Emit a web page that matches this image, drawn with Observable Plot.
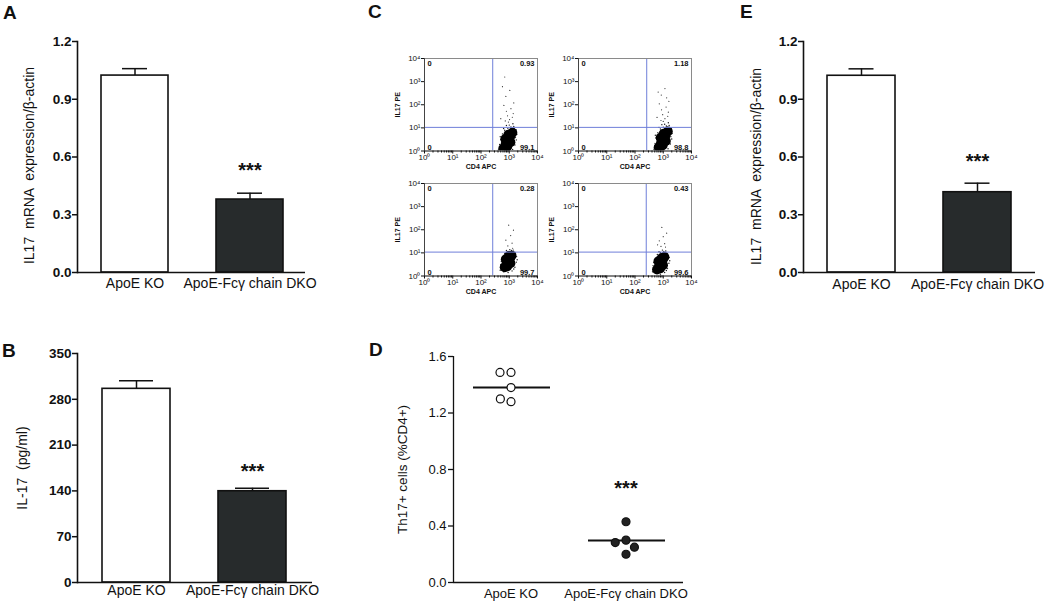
<!DOCTYPE html>
<html><head><meta charset="utf-8">
<script src="https://cdn.jsdelivr.net/npm/d3@7"></script>
<script src="https://cdn.jsdelivr.net/npm/@observablehq/plot@0.6"></script>
<style>
html,body{margin:0;padding:0;background:#fff;}
#root{position:relative;width:1050px;height:602px;overflow:hidden;font-family:"Liberation Sans",Arial,Helvetica,sans-serif;color:#111;}
.panel{position:absolute;}
.letter{position:absolute;font-weight:bold;font-size:19px;line-height:19px;}
</style></head><body><div id="root"></div>
<script>
// ---------- data ----------
const groups = ["ApoE KO", "ApoE-Fcγ chain DKO"];
const barColors = ["#ffffff", "#272b2c"];

// Panel A: IL17 mRNA expression / β-actin
const aMean = [1.023, 0.379];
const aSem = [0.036, 0.033];
// Panel E: IL17 mRNA expression / β-actin
const eMean = [1.022, 0.417];
const eSem = [0.036, 0.047];
// Panel B: IL-17 (pg/ml)
const bMean = [296, 139.5];
const bSem = [12.5, 4.5];

const ticksA = [0, 0.3, 0.6, 0.9, 1.2];
const ticksB = [0, 70, 140, 210, 280, 350];
const ticksD = [0, 0.4, 0.8, 1.2, 1.6];

// Panel D: Th17+ cells (%CD4+)
const dApoE = [1.487, 1.487, 1.38, 1.28, 1.30];
const dDKO = [0.43, 0.30, 0.20, 0.283, 0.25];
const dMedian = [1.38, 0.297];

// Panel C: flow cytometry (log10 decades of CD4 APC, IL17 PE)
const flowTicks = [1, 10, 100, 1000, 10000];
const flowTickLabels = ["10\u2070", "10\u00B9", "10\u00B2", "10\u00B3", "10\u2074"];
const quadTL = ["0", "0", "0", "0"];
const quadTR = ["0.93", "1.18", "0.28", "0.43"];
const quadBL = ["0", "0", "0", "0"];
const quadBR = ["99.1", "98.8", "99.7", "99.6"];
const gateX = [260, 260, 260, 250];
const gateY = [10.5, 10.5, 10.8, 10.8];

const flowCore1 = [[2.79,0.11],[2.87,0.28],[2.95,0.45],[3.03,0.62],[3.11,0.79],[3.04,0.38],[2.86,0.52],[2.93,0.20],[2.97,0.70]];
const flowHalo1 = [[2.62,0.05],[2.66,0.28],[2.70,0.50],[2.76,0.74],[2.84,0.90],[2.95,0.98],[3.06,1.04],[3.16,1.06],[3.24,0.92],[3.27,0.72],[3.25,0.48],[3.20,0.26],[3.12,0.07],[2.99,0.02],[2.71,0.12],[2.80,0.97],[3.00,1.12],[3.13,1.18],[2.90,1.10],[3.22,0.58],[2.68,0.62],[3.18,0.95],[2.74,0.40],[3.09,0.98]];
const flowTail1 = [[2.86,1.30],[3.01,1.36],[2.94,1.52],[3.11,1.46],[2.90,1.72],[3.06,1.83],[2.81,1.97],[3.16,2.08],[2.88,2.36],[3.02,2.62],[2.76,2.78],[2.84,3.20],[2.97,1.25],[3.14,1.62],[2.70,1.40]];

const flowCore2 = [[2.84,0.16],[2.92,0.33],[3.00,0.50],[3.08,0.67],[3.16,0.84],[3.09,0.43],[2.91,0.57],[2.98,0.25],[3.02,0.75]];
const flowHalo2 = [[2.67,0.08],[2.71,0.33],[2.74,0.56],[2.81,0.79],[2.90,0.95],[3.00,1.03],[3.11,1.08],[3.21,1.10],[3.29,0.97],[3.31,0.76],[3.30,0.52],[3.25,0.30],[3.17,0.10],[3.04,0.04],[2.76,0.18],[2.85,1.02],[3.05,1.16],[3.18,1.22],[2.95,1.14],[3.27,0.62],[2.72,0.68],[3.23,1.00],[2.79,0.45],[3.14,1.03]];
const flowTail2 = [[2.92,1.32],[3.06,1.40],[2.98,1.57],[3.16,1.50],[2.94,1.78],[3.10,1.90],[2.86,2.04],[3.20,2.15],[2.93,2.42],[3.06,2.70],[2.82,2.55],[3.00,1.28],[3.18,1.68],[2.78,1.45],[3.12,2.30]];

const flowCore3 = [[2.84,0.38],[2.90,0.52],[2.96,0.64],[3.03,0.78],[3.08,0.88],[3.04,0.55],[2.88,0.72],[2.93,0.42],[2.99,0.86]];
const flowHalo3 = [[2.68,0.25],[2.70,0.50],[2.76,0.78],[2.84,0.98],[2.96,1.06],[3.08,1.10],[3.20,1.02],[3.26,0.84],[3.25,0.60],[3.20,0.38],[3.10,0.22],[2.96,0.15],[2.80,0.18],[3.14,1.12],[2.90,1.10],[3.28,0.70],[2.72,0.64],[3.02,1.14],[2.78,0.35],[3.16,0.30]];
const flowTail3 = [[2.95,1.30],[3.10,1.42],[2.88,1.55],[3.05,1.75],[3.15,1.98],[2.98,2.20],[3.12,1.20]];

const flowCore4 = [[2.78,0.28],[2.85,0.42],[2.91,0.56],[2.98,0.70],[3.04,0.82],[2.99,0.47],[2.83,0.64],[2.89,0.33],[2.95,0.78]];
const flowHalo4 = [[2.62,0.18],[2.64,0.45],[2.70,0.72],[2.79,0.93],[2.90,1.02],[3.02,1.06],[3.14,0.98],[3.21,0.80],[3.20,0.55],[3.15,0.32],[3.05,0.15],[2.90,0.08],[2.74,0.12],[3.09,1.08],[2.85,1.05],[3.23,0.66],[2.66,0.58],[2.97,1.12],[2.72,0.30],[3.11,0.24]];
const flowTail4 = [[2.92,1.28],[3.05,1.40],[2.86,1.52],[3.00,1.70],[3.12,1.85],[2.95,2.10],[3.08,1.25],[2.80,1.35]];

const flowCore = [flowCore1, flowCore2, flowCore3, flowCore4];
const flowHalo = [flowHalo1, flowHalo2, flowHalo3, flowHalo4];
const flowTail = [flowTail1, flowTail2, flowTail3, flowTail4];

// ---------- rendering ----------
const root = document.getElementById("root");
const FONT = "'Liberation Sans', Arial, Helvetica, sans-serif";
const baseStyle = {fontFamily: FONT, fontSize: "14px", background: "transparent", overflow: "visible", color: "#111"};
const INK = "#111";

function place(svg, left, top, w, h) {
  const div = document.createElement("div");
  div.className = "panel";
  div.style.left = left + "px";
  div.style.top = top + "px";
  div.style.width = w + "px";
  div.style.height = h + "px";
  div.appendChild(svg);
  root.appendChild(div);
}
function letter(t, left, top) {
  const d = document.createElement("div");
  d.className = "letter";
  d.textContent = t;
  d.style.left = left + "px";
  d.style.top = top + "px";
  root.appendChild(d);
}

function barPanel(o) {
  const rows = groups.map((g, i) => ({group: g, mean: o.mean[i], sem: o.sem[i], top: o.mean[i] + o.sem[i]}));
  return Plot.plot({
    width: o.width, height: o.height,
    marginLeft: o.ml, marginRight: o.mr, marginTop: o.mt, marginBottom: o.mb,
    style: baseStyle,
    x: {domain: groups, paddingInner: o.pi, paddingOuter: o.po, align: o.align},
    y: {domain: o.domain},
    color: {domain: groups, range: barColors},
    marks: [
      Plot.barY(rows, {x: "group", y: "mean", fill: "group", stroke: INK, strokeWidth: 1.6}),
      Plot.ruleX(rows, {x: "group", y1: "mean", y2: "top", stroke: INK, strokeWidth: 1.5}),
      Plot.tickY(rows, {x: "group", y: "top", insetLeft: o.cap, insetRight: o.cap, stroke: INK, strokeWidth: 1.5}),
      Plot.ruleY([0], {stroke: INK, strokeWidth: 1.6}),
      Plot.frame({anchor: "left", stroke: INK, strokeWidth: 1.6}),
      Plot.axisY({ticks: o.ticks, tickFormat: o.fmt, tickSize: 5, tickPadding: 1, fontSize: 13.5, fontWeight: "bold", strokeWidth: 1.5, label: null}),
      Plot.axisX({tickSize: 0, tickPadding: o.xpad, fontSize: 14, label: null}),
      Plot.text([rows[1]], {x: "group", y: "top", text: () => "***", dy: o.starDy, lineAnchor: "bottom", fontSize: 20, fontWeight: "bold"}),
      Plot.text([o.label], {frameAnchor: "left", text: d => d, rotate: -90, textAnchor: "middle", dx: o.ldx, dy: o.ldy, fontSize: 14})
    ]
  });
}

const fmt1 = d => d.toFixed(1);

place(barPanel({mean: aMean, sem: aSem, domain: [0, 1.2], ticks: ticksA, fmt: fmt1,
  width: 320, height: 300, ml: 77, mr: 15, mt: 41, mb: 28, pi: 0.414, po: 0.196, align: 0.53,
  cap: 21, xpad: 6, starDy: -16, label: "IL17  mRNA  expression/β-actin", ldx: -48, ldy: 8.5}), 0, 0, 320, 300);

place(barPanel({mean: eMean, sem: eSem, domain: [0, 1.2], ticks: ticksA, fmt: fmt1,
  width: 350, height: 300, ml: 103, mr: 15, mt: 41, mb: 28, pi: 0.414, po: 0.207, align: 0.5,
  cap: 21.5, xpad: 7, starDy: -15, label: "IL17  mRNA  expression/β-actin", ldx: -47, ldy: 9.5}), 700, 0, 350, 300);

place(barPanel({mean: bMean, sem: bSem, domain: [0, 350], ticks: ticksB, fmt: d => String(d),
  width: 330, height: 302, ml: 77, mr: 18, mt: 53, mb: 20, pi: 0.41, po: 0.21, align: 0.5,
  cap: 17, xpad: 3, starDy: -10, label: "IL-17  (pg/ml)", ldx: -55, ldy: 0}), 0, 300, 330, 302);

// Panel D
const dRows = [...dApoE.map(v => ({group: groups[0], value: v})), ...dDKO.map(v => ({group: groups[1], value: v}))];
const dMedRows = groups.map((g, i) => ({group: g, value: dMedian[i]}));
const plotD = Plot.plot({
  width: 330, height: 302, marginLeft: 82, marginRight: 17, marginTop: 56, marginBottom: 20,
  style: baseStyle,
  fx: {domain: groups, padding: 0},
  x: {domain: [0, 1], axis: null},
  y: {domain: [0, 1.6]},
  color: {domain: groups, range: ["#ffffff", "#222222"]},
  marks: [
    Plot.ruleY([0], {stroke: INK, strokeWidth: 1.3}),
    Plot.ruleX([0], {x: d => d, fx: () => groups[0], y1: 0, y2: 1.6, stroke: INK, strokeWidth: 1.3}),
    Plot.ruleY(dMedRows, {fx: "group", y: "value", insetLeft: 20, insetRight: 18, stroke: INK, strokeWidth: 2}),
    Plot.dot(dRows, Plot.dodgeX({anchor: "middle", padding: 3}, {fx: "group", y: "value", r: 4, fill: "group", stroke: INK, strokeWidth: 1.2})),
    Plot.axisY({ticks: ticksD, tickFormat: fmt1, tickSize: 5, tickPadding: 2, fontSize: 13, strokeWidth: 1.3, label: null}),
    Plot.axisFx({anchor: "bottom", tickSize: 0, tickPadding: 6, fontSize: 13, label: null}),
    Plot.text([{group: groups[1], value: d3.max(dDKO)}], {fx: "group", y: "value", text: () => "***", dy: -27, lineAnchor: "bottom", fontSize: 20, fontWeight: "bold"}),
    Plot.text(["Th17+ cells (%CD4+)"], {fx: () => groups[0], frameAnchor: "left", text: d => d, rotate: -90, textAnchor: "middle", dx: -51, fontSize: 13.5})
  ]
});
place(plotD, 370, 300, 330, 302);

// Panel C flow plots
const flowMinor = d3.range(0, 4).flatMap(e => d3.range(2, 10).map(m => m * 10 ** e));
const gateColor = "#6f7fd9";
const fx10 = d => 10 ** d[0];
const fy10 = d => 10 ** d[1];
const flowFmt = d => flowTickLabels[flowTicks.indexOf(d)];
function flowPanel(k) {
  return Plot.plot({
    width: 172, height: 131, marginLeft: 54, marginRight: 5, marginTop: 13, marginBottom: 25.5,
    style: {...baseStyle, fontSize: "8px"},
    x: {type: "log", domain: [1, 1e4]},
    y: {type: "log", domain: [1, 1e4]},
    marks: [
      Plot.dot(flowHalo[k], {x: fx10, y: fy10, r: 0.7, fill: "#1a1a1a", clip: true}),
      Plot.dot(flowTail[k], {x: fx10, y: fy10, r: 0.6, fill: "#333", clip: true}),
      Plot.dot(flowCore[k], {x: fx10, y: fy10, r: 5, fill: "#000", clip: true}),
      Plot.ruleX([gateX[k]], {stroke: gateColor, strokeWidth: 1}),
      Plot.ruleY([gateY[k]], {stroke: gateColor, strokeWidth: 1}),
      Plot.frame({stroke: "#8a8a8a", strokeWidth: 1}),
      Plot.ruleX([1], {stroke: "#444", strokeWidth: 1}),
      Plot.ruleY([1], {stroke: "#444", strokeWidth: 1}),
      Plot.axisX({ticks: flowTicks, tickFormat: flowFmt, tickSize: 3, tickPadding: 0, fontSize: 8, label: null}),
      Plot.axisX({ticks: flowMinor, tickFormat: () => "", tickSize: 2, label: null}),
      Plot.axisY({ticks: flowTicks, tickFormat: flowFmt, tickSize: 3, tickPadding: 1, fontSize: 8, label: null}),
      Plot.text([quadTL[k]], {frameAnchor: "top-left", text: d => d, dx: 3, dy: 2, lineAnchor: "top", textAnchor: "start", fill: "#111", fontWeight: "bold", fontSize: 7.5}),
      Plot.text([quadTR[k]], {frameAnchor: "top-right", text: d => d, dx: -3, dy: 2, lineAnchor: "top", textAnchor: "end", fill: "#111", fontWeight: "bold", fontSize: 7.5}),
      Plot.text([quadBL[k]], {frameAnchor: "bottom-left", text: d => d, dx: 3, dy: -1, lineAnchor: "bottom", textAnchor: "start", fill: "#111", fontWeight: "bold", fontSize: 7.5}),
      Plot.text([quadBR[k]], {frameAnchor: "bottom-right", text: d => d, dx: -3, dy: -1, lineAnchor: "bottom", textAnchor: "end", fill: "#111", fontWeight: "bold", fontSize: 7.5}),
      Plot.text(["CD4 APC"], {frameAnchor: "bottom", text: d => d, dy: 18, fontWeight: "bold", fontSize: 7}),
      Plot.text(["IL17 PE"], {frameAnchor: "left", text: d => d, rotate: -90, textAnchor: "middle", dx: -27, fontWeight: "bold", fontSize: 7})
    ]
  });
}
place(flowPanel(0), 370, 45, 172, 131);
place(flowPanel(1), 524, 45, 172, 131);
place(flowPanel(2), 370, 170, 172, 131);
place(flowPanel(3), 524, 170, 172, 131);

letter("A", 3, 3);
letter("B", 2, 341);
letter("C", 368, 2);
letter("D", 369, 340);
letter("E", 740, 2);
</script></body></html>
